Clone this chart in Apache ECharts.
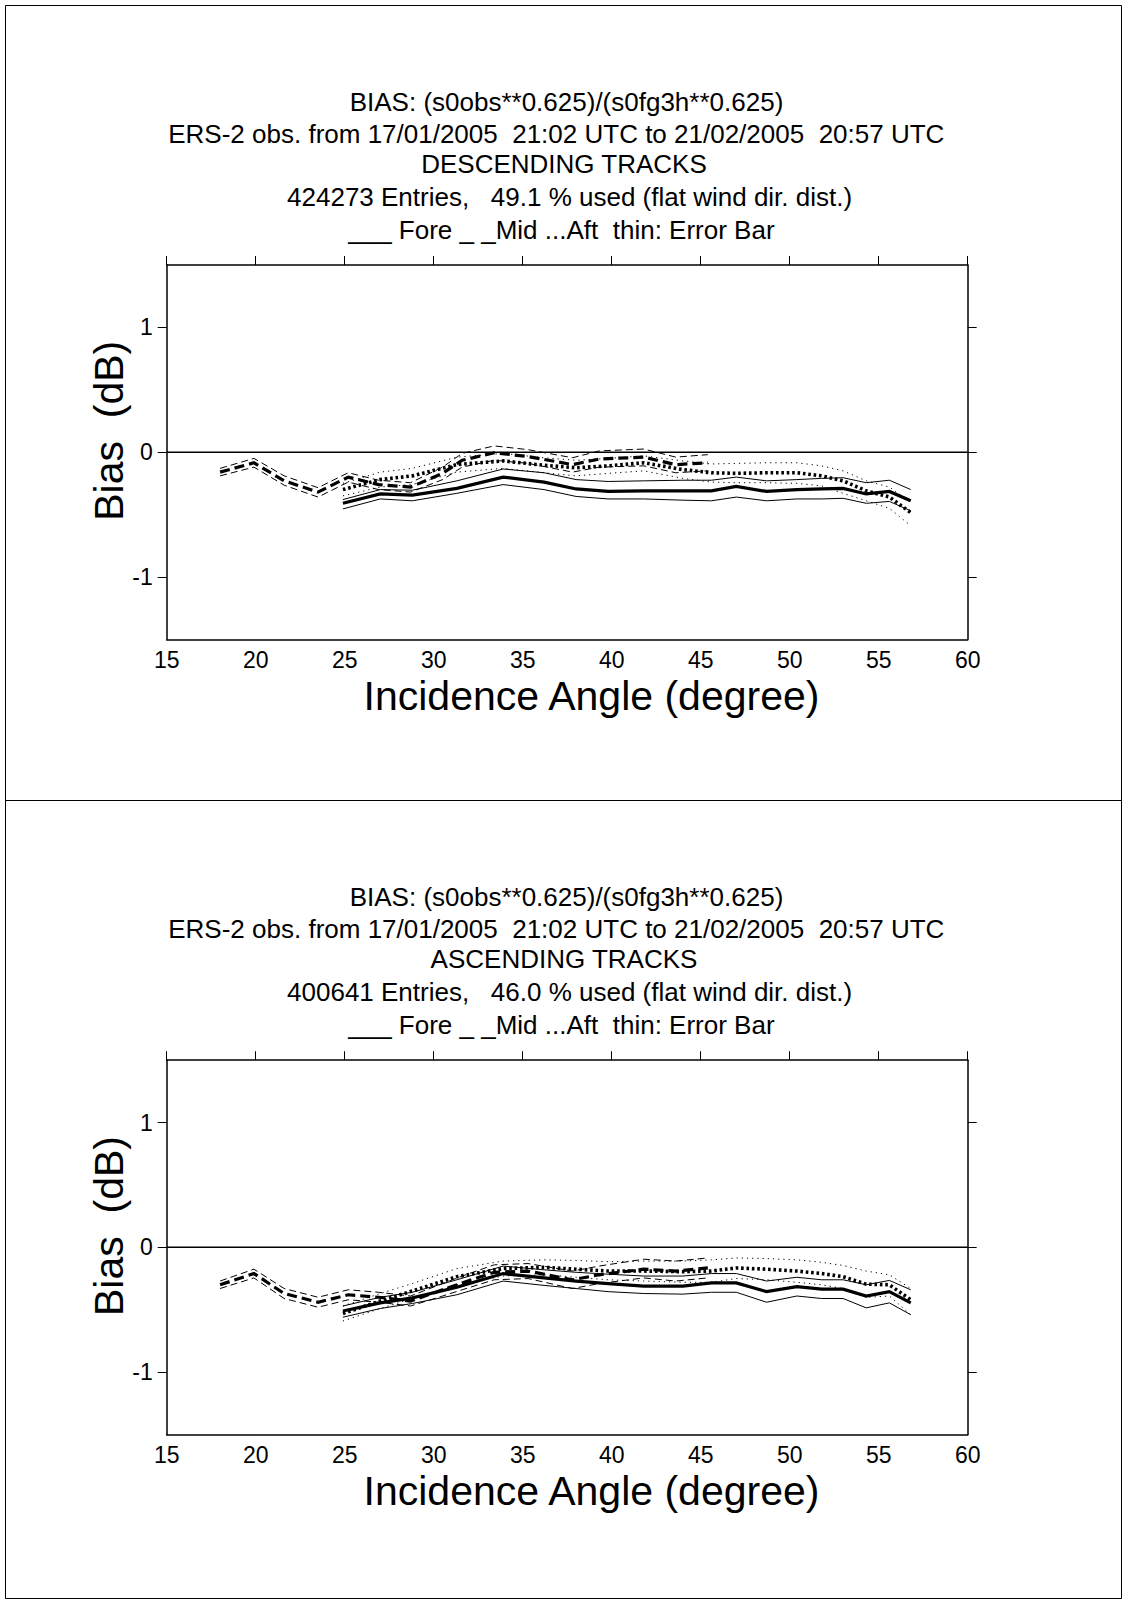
<!DOCTYPE html>
<html>
<head>
<meta charset="utf-8">
<script src="https://cdn.jsdelivr.net/npm/echarts@6/dist/echarts.min.js"></script>
<style>
html,body{margin:0;padding:0;background:#fff;}
#chart{width:1123px;height:1600px;}
</style>
</head>
<body>
<div id="chart"></div>
<script>
// ---------- data ----------
const xTicks = [15, 20, 25, 30, 35, 40, 45, 50, 55, 60];
const yTicks = [-1, 0, 1];

const midX  = [18.0, 19.9, 21.6, 23.5, 25.2, 26.9, 28.7, 30.5, 31.6, 33.4, 35.3, 37.8, 39.3, 41.8, 43.6, 45.4];
const foreX = [24.9, 27.0, 28.8, 31.3, 33.9, 36.2, 38.0, 39.8, 41.8, 44.0, 45.6, 47.0, 48.7, 50.4, 51.8, 53.0, 54.3, 55.6, 56.8];
const aftX  = [24.9, 27.0, 28.8, 31.3, 33.9, 36.2, 38.0, 39.8, 41.8, 44.0, 45.6, 47.0, 48.7, 50.4, 51.8, 53.0, 54.3, 55.6, 56.8];

// Descending tracks
const descFore  = [-0.41, -0.335, -0.345, -0.29, -0.20, -0.24, -0.295, -0.315, -0.31, -0.31, -0.31, -0.275, -0.315, -0.30, -0.295, -0.29, -0.335, -0.315, -0.39];
const descForeU = [-0.38, -0.30, -0.305, -0.23, -0.135, -0.165, -0.22, -0.235, -0.23, -0.225, -0.225, -0.20, -0.23, -0.22, -0.21, -0.205, -0.245, -0.225, -0.30];
const descForeL = [-0.455, -0.375, -0.39, -0.33, -0.26, -0.30, -0.355, -0.375, -0.375, -0.385, -0.39, -0.36, -0.39, -0.375, -0.375, -0.37, -0.41, -0.395, -0.47];
const descMid   = [-0.16, -0.085, -0.23, -0.32, -0.20, -0.26, -0.28, -0.17, -0.065, -0.005, -0.035, -0.10, -0.055, -0.04, -0.10, -0.085];
const descMidU  = [-0.13, -0.05, -0.19, -0.285, -0.165, -0.225, -0.245, -0.12, -0.01, 0.05, 0.02, -0.045, 0.01, 0.025, -0.04, -0.02];
const descMidL  = [-0.19, -0.12, -0.265, -0.36, -0.24, -0.30, -0.32, -0.22, -0.12, -0.065, -0.09, -0.16, -0.12, -0.11, -0.165, -0.15];
const descAft   = [-0.30, -0.22, -0.19, -0.10, -0.07, -0.105, -0.125, -0.11, -0.085, -0.14, -0.165, -0.17, -0.165, -0.165, -0.19, -0.23, -0.31, -0.36, -0.485];
const descAftU  = [-0.25, -0.16, -0.13, -0.04, -0.01, -0.045, -0.065, -0.05, -0.03, -0.07, -0.095, -0.09, -0.085, -0.085, -0.11, -0.15, -0.23, -0.28, -0.40];
const descAftL  = [-0.35, -0.28, -0.26, -0.16, -0.13, -0.165, -0.19, -0.17, -0.15, -0.21, -0.24, -0.245, -0.245, -0.25, -0.27, -0.33, -0.39, -0.45, -0.59];

// Ascending tracks
const ascFore  = [-0.51, -0.445, -0.405, -0.32, -0.21, -0.245, -0.27, -0.29, -0.31, -0.31, -0.285, -0.285, -0.355, -0.315, -0.335, -0.335, -0.39, -0.355, -0.445];
const ascForeU = [-0.47, -0.40, -0.36, -0.26, -0.15, -0.18, -0.20, -0.215, -0.23, -0.23, -0.21, -0.21, -0.27, -0.24, -0.26, -0.26, -0.30, -0.265, -0.34];
const ascForeL = [-0.56, -0.49, -0.45, -0.38, -0.27, -0.305, -0.33, -0.355, -0.37, -0.375, -0.36, -0.36, -0.44, -0.39, -0.41, -0.41, -0.485, -0.445, -0.54];
const ascMid   = [-0.30, -0.21, -0.37, -0.44, -0.38, -0.40, -0.43, -0.34, -0.285, -0.20, -0.19, -0.26, -0.22, -0.175, -0.19, -0.165];
const ascMidU  = [-0.27, -0.175, -0.33, -0.40, -0.34, -0.36, -0.39, -0.29, -0.23, -0.14, -0.13, -0.19, -0.15, -0.095, -0.11, -0.085];
const ascMidL  = [-0.33, -0.245, -0.41, -0.48, -0.42, -0.44, -0.47, -0.39, -0.34, -0.26, -0.25, -0.33, -0.29, -0.245, -0.27, -0.245];
const ascAft   = [-0.53, -0.43, -0.35, -0.235, -0.17, -0.16, -0.175, -0.19, -0.19, -0.195, -0.19, -0.165, -0.175, -0.19, -0.21, -0.235, -0.295, -0.30, -0.42];
const ascAftU  = [-0.47, -0.37, -0.29, -0.17, -0.11, -0.10, -0.105, -0.115, -0.11, -0.11, -0.10, -0.085, -0.09, -0.10, -0.12, -0.145, -0.19, -0.22, -0.33];
const ascAftL  = [-0.59, -0.49, -0.41, -0.30, -0.23, -0.22, -0.24, -0.26, -0.27, -0.28, -0.28, -0.25, -0.26, -0.28, -0.30, -0.33, -0.40, -0.39, -0.54];

const titlesDesc = [
  'BIAS: (s0obs**0.625)/(s0fg3h**0.625)',
  'ERS-2 obs. from 17/01/2005  21:02 UTC to 21/02/2005  20:57 UTC',
  'DESCENDING TRACKS',
  '424273 Entries,   49.1 % used (flat wind dir. dist.)',
  '___ Fore _ _Mid ...Aft  thin: Error Bar'
];
const titlesAsc = [
  'BIAS: (s0obs**0.625)/(s0fg3h**0.625)',
  'ERS-2 obs. from 17/01/2005  21:02 UTC to 21/02/2005  20:57 UTC',
  'ASCENDING TRACKS',
  '400641 Entries,   46.0 % used (flat wind dir. dist.)',
  '___ Fore _ _Mid ...Aft  thin: Error Bar'
];
const xName = 'Incidence Angle (degree)';
const yName = 'Bias  (dB)';

// ---------- layout ----------
const FONT = 'Liberation Sans';
const panels = [
  {top: 265, titles: titlesDesc, fore: descFore, foreU: descForeU, foreL: descForeL,
   mid: descMid, midU: descMidU, midL: descMidL, aft: descAft, aftU: descAftU, aftL: descAftL},
  {top: 1060.2, titles: titlesAsc, fore: ascFore, foreU: ascForeU, foreL: ascForeL,
   mid: ascMid, midU: ascMidU, midL: ascMidL, aft: ascAft, aftU: ascAftU, aftL: ascAftL}
];
const GL = 166.7, GW = 801, GH = 374.3;

const pairs = (xs, ys) => xs.map((x, i) => [x, ys[i]]);

const grids = [], xAxes = [], yAxes = [], series = [], graphics = [];

graphics.push({type: 'rect', shape: {x: 5.5, y: 5.5, width: 1116, height: 1593},
  style: {fill: 'none', stroke: '#000', lineWidth: 1}, silent: true});
graphics.push({type: 'line', shape: {x1: 5.5, y1: 800.5, x2: 1121.5, y2: 800.5},
  style: {stroke: '#000', lineWidth: 1}, silent: true});

panels.forEach((p, k) => {
  grids.push({left: GL, top: p.top, width: GW, height: GH, containLabel: false});
  const axisLine = {show: true, onZero: false, lineStyle: {color: '#000', width: 1.5}};
  // bottom x
  xAxes.push({type: 'value', gridIndex: k, position: 'bottom', min: xTicks[0], max: xTicks[xTicks.length - 1], interval: 5,
    axisLine: axisLine, axisTick: {show: false}, splitLine: {show: false},
    axisLabel: {show: true, color: '#000', fontSize: 23, fontFamily: FONT, margin: 9, customValues: xTicks}});
  // top x (ticks only)
  xAxes.push({type: 'value', gridIndex: k, position: 'top', min: xTicks[0], max: xTicks[xTicks.length - 1], interval: 5,
    axisLine: axisLine, axisTick: {show: true, inside: false, length: 9, lineStyle: {color: '#000', width: 1}},
    axisLabel: {show: false}, splitLine: {show: false}});
  // left y
  yAxes.push({type: 'value', gridIndex: k, position: 'left', min: -1.5, max: 1.5, interval: 0.5,
    axisLine: axisLine, axisTick: {show: true, length: 9, customValues: yTicks, lineStyle: {color: '#000', width: 1}},
    axisLabel: {show: true, color: '#000', fontSize: 23, fontFamily: FONT, margin: 14, customValues: yTicks,
      formatter: v => (Math.abs(v - Math.round(v)) < 1e-9 ? String(Math.round(v)) : '')},
    splitLine: {show: false}});
  // right y (ticks only)
  yAxes.push({type: 'value', gridIndex: k, position: 'right', min: -1.5, max: 1.5, interval: 0.5,
    axisLine: axisLine, axisTick: {show: true, length: 9, customValues: yTicks, lineStyle: {color: '#000', width: 1}},
    axisLabel: {show: false}, splitLine: {show: false}});

  const xi = 2 * k, yi = 2 * k;
  const mk = (name, xs, ys, width, type, z) => ({
    type: 'line', name: name, xAxisIndex: xi, yAxisIndex: yi, data: pairs(xs, ys),
    showSymbol: false, symbol: 'none', silent: true, z: z,
    lineStyle: {color: '#000', width: width, type: type, cap: 'butt', join: 'miter'}
  });
  // zero line
  series.push({type: 'line', xAxisIndex: xi, yAxisIndex: yi, data: [[15, 0], [60, 0]], showSymbol: false,
    symbol: 'none', silent: true, z: 1, lineStyle: {color: '#000', width: 1.5}});
  // thin error bars
  series.push(mk('Fore upper', foreX, p.foreU, 1, 'solid', 2));
  series.push(mk('Fore lower', foreX, p.foreL, 1, 'solid', 2));
  series.push(mk('Mid upper', midX, p.midU, 1, [7, 4], 2));
  series.push(mk('Mid lower', midX, p.midL, 1, [7, 4], 2));
  series.push(mk('Aft upper', aftX, p.aftU, 1, [1.2, 4], 2));
  series.push(mk('Aft lower', aftX, p.aftL, 1, [1.2, 4], 2));
  // thick means
  series.push(mk('Fore', foreX, p.fore, 3.2, 'solid', 3));
  series.push(mk('Mid', midX, p.mid, 3.2, [10, 5], 3));
  series.push(mk('Aft', aftX, p.aft, 3.6, [2.6, 2.8], 3));

  // titles
  const off = p.top - 265;
  const ty = [102, 133.6, 164.2, 196.8, 229.5];
  const tx = [566.5, 556.3, 564, 569.6, 561.4];
  p.titles.forEach((t, i) => {
    graphics.push({type: 'text', silent: true,
      style: {text: t, x: tx[i], y: ty[i] + off, align: 'center', verticalAlign: 'middle',
        fontSize: 26, fontFamily: FONT, fill: '#000'}});
  });
  graphics.push({type: 'text', silent: true,
    style: {text: xName, x: 591.5, y: 695.5 + off, align: 'center', verticalAlign: 'middle',
      fontSize: 41, fontFamily: FONT, fill: '#000'}});
  graphics.push({type: 'text', silent: true, x: 109, y: 430.8 + off, rotation: Math.PI / 2,
    style: {text: yName, x: 0, y: 0, align: 'center', verticalAlign: 'middle',
      fontSize: 41, fontFamily: FONT, fill: '#000'}});
});

const chart = echarts.init(document.getElementById('chart'), null, {renderer: 'svg', width: 1123, height: 1600});
chart.setOption({
  animation: false,
  backgroundColor: '#fff',
  grid: grids,
  xAxis: xAxes,
  yAxis: yAxes,
  series: series,
  graphic: graphics
});
</script>
</body>
</html>
